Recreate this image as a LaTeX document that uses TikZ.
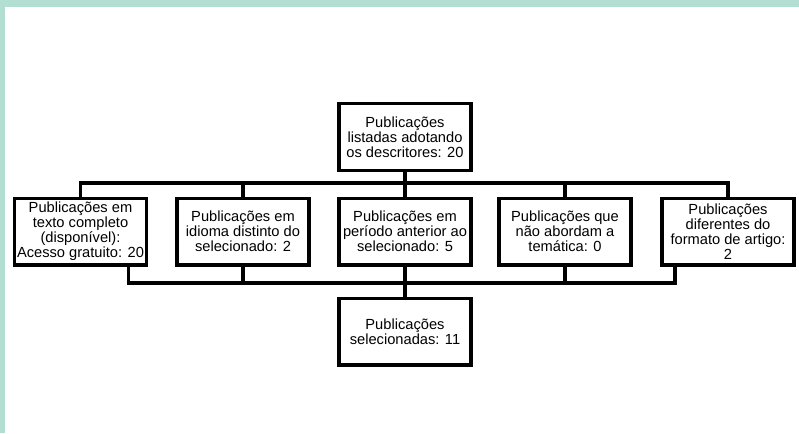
\documentclass[tikz,border=0pt]{standalone}
\usepackage{fontspec}
\setmainfont{Liberation Sans}
\usetikzlibrary{positioning}

\definecolor{frame}{RGB}{179,223,211}

\tikzset{
  caixa/.style={draw=black, line width=2.5pt, fill=white, align=center,
    minimum width=99pt, minimum height=50pt, inner sep=1pt,
    font=\fontsize{11}{11.3}\selectfont},
  liga/.style={black, line width=2.5pt}
}

\begin{document}
\begin{tikzpicture}[x=0.75pt, y=-0.75pt]

\useasboundingbox (0,0) rectangle (799,433);
\fill[frame] (0,0) rectangle (799,7);
\fill[frame] (0,0) rectangle (5,433);

\node[caixa] (topo) at (405,137) {Publicações\\listadas adotando\\os descritores: 20};

\node[caixa] (b1) at (80.5,231.5) {Publicações em\\texto completo\\(disponível):\\Acesso gratuito: 20};
\node[caixa] (b2) at (243,231.5) {Publicações em\\idioma distinto do\\selecionado: 2};
\node[caixa] (b3) at (405,231.5) {Publicações em\\período anterior ao\\selecionado: 5};
\node[caixa] (b4) at (565,231.5) {Publicações que\\não abordam a\\temática: 0};
\node[caixa] (b5) at (728,231.5) {Publicações\\diferentes do\\formato de artigo:\\2};

\node[caixa] (fim) at (405,331.5) {Publicações\\selecionadas: 11};

\coordinate (bus1) at (405,183);
\coordinate (bus2) at (405,283);

\draw[liga] (topo.south) -- (bus1);
\draw[liga] (b1.north) |- (bus1) -| (b5.north);
\foreach \b in {b2, b3, b4} {
  \draw[liga] (\b.north) -- (\b.north |- bus1);
};

\draw[liga] ([xshift=-15pt]b1.south east) |- (bus2) -| ([xshift=11pt]b5.south west);
\foreach \b in {b2, b4} {
  \draw[liga] (\b.south) -- (\b.south |- bus2);
};
\draw[liga] (b3.south) -- (fim.north);

\end{tikzpicture}
\end{document}
